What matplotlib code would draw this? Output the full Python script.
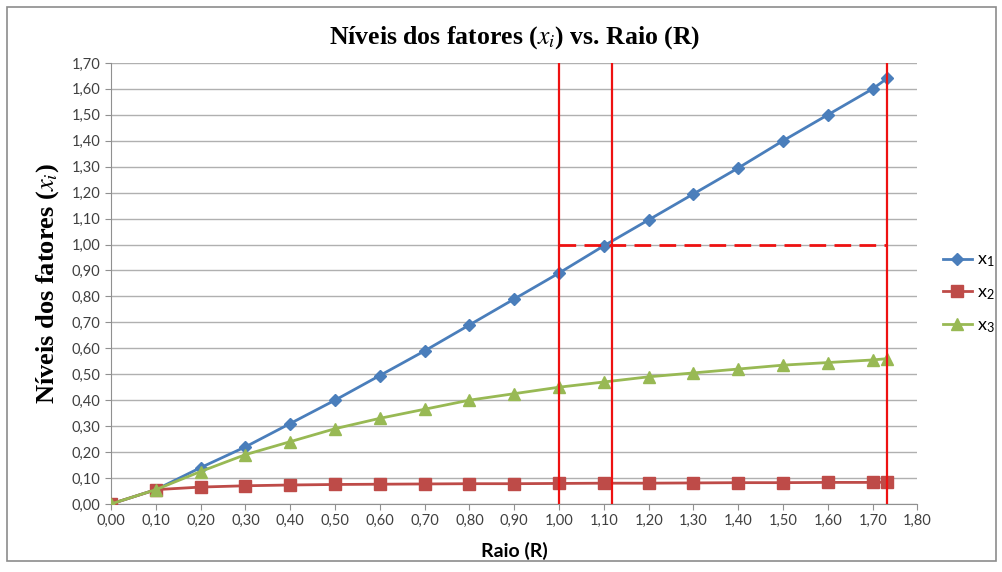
import matplotlib.pyplot as plt
import numpy as np
from matplotlib.patches import Rectangle

raio = [0.0, 0.1, 0.2, 0.3, 0.4, 0.5, 0.6, 0.7, 0.8, 0.9, 1.0,
        1.1, 1.2, 1.3, 1.4, 1.5, 1.6, 1.7, 1.732]
x1 = [0.0, 0.055, 0.14, 0.22, 0.31, 0.40, 0.495, 0.59, 0.69, 0.79, 0.89,
      0.995, 1.095, 1.195, 1.295, 1.40, 1.50, 1.60, 1.64]
x2 = [0.0, 0.055, 0.065, 0.07, 0.073, 0.075, 0.076, 0.077, 0.078, 0.078, 0.079,
      0.080, 0.080, 0.081, 0.082, 0.082, 0.083, 0.083, 0.084]
x3 = [0.0, 0.055, 0.125, 0.19, 0.24, 0.29, 0.33, 0.365, 0.40, 0.425, 0.45,
      0.47, 0.49, 0.505, 0.52, 0.535, 0.545, 0.555, 0.56]
red_lines = [1.0, 1.118, 1.732]
nivel = 1.0

xticks = np.arange(0, 1.81, 0.1)
yticks = np.arange(0, 1.71, 0.1)

plt.rcParams['mathtext.fontset'] = 'stix'

fig = plt.figure(figsize=(10.03, 5.72), dpi=100)
ax = fig.add_axes([0.1107, 0.119, 0.804, 0.771])
fig.patches.append(Rectangle((0.007, 0.02), 0.986, 0.967, transform=fig.transFigure,
                             fill=False, edgecolor='#8c8c8c', lw=1.2))

ax.plot(raio, x1, color='#4A7EBB', marker='D', ms=6, lw=2,
        label=r'x$_\mathregular{1}$', zorder=3)
ax.plot(raio, x2, color='#BE4B48', marker='s', ms=8, lw=2,
        label=r'x$_\mathregular{2}$', zorder=3)
ax.plot(raio, x3, color='#98B954', marker='^', ms=8, lw=2,
        label=r'x$_\mathregular{3}$', zorder=3)

for xv in red_lines:
    ax.axvline(xv, color='#EE1111', lw=1.6, zorder=4)
ax.hlines(nivel, red_lines[0], red_lines[2], colors='#EE1111', linestyles=(0, (6, 3)),
          lw=2, zorder=4)

ax.set_xlim(0, 1.8)
ax.set_ylim(0, 1.7)
ax.set_xticks(xticks)
ax.set_yticks(yticks)
ax.set_xticklabels([f'{v:.2f}'.replace('.', ',') for v in xticks],
                   family='Lato', fontsize=10.5, color='#404040')
ax.set_yticklabels([f'{v:.2f}'.replace('.', ',') for v in yticks],
                   family='Lato', fontsize=10.5, color='#404040')
ax.grid(axis='y', color='#b0b0b0', lw=1)
ax.set_axisbelow(True)
for s in ['top', 'right']:
    ax.spines[s].set_visible(False)
for s in ['left', 'bottom']:
    ax.spines[s].set_color('#909090')
ax.tick_params(axis='both', color='#909090', length=4, direction='out')

ax.set_title('Níveis dos fatores ($x_i$) vs. Raio (R)', family='Liberation Serif',
             fontweight='bold', fontsize=18.5, pad=14)
ax.set_ylabel('Níveis dos fatores ($x_i$)', family='Liberation Serif',
              fontweight='bold', fontsize=19, labelpad=8)
ax.set_xlabel('Raio (R)', family='Lato', fontweight='bold', fontsize=14, labelpad=10)

fig.legend(loc='center left', bbox_to_anchor=(0.94, 0.487), frameon=False,
           prop={'family': 'Lato', 'size': 13},
           handlelength=1.6, handletextpad=0.3, labelspacing=0.85, borderpad=0,
           borderaxespad=0)

fig.savefig('out.png', dpi=100)
